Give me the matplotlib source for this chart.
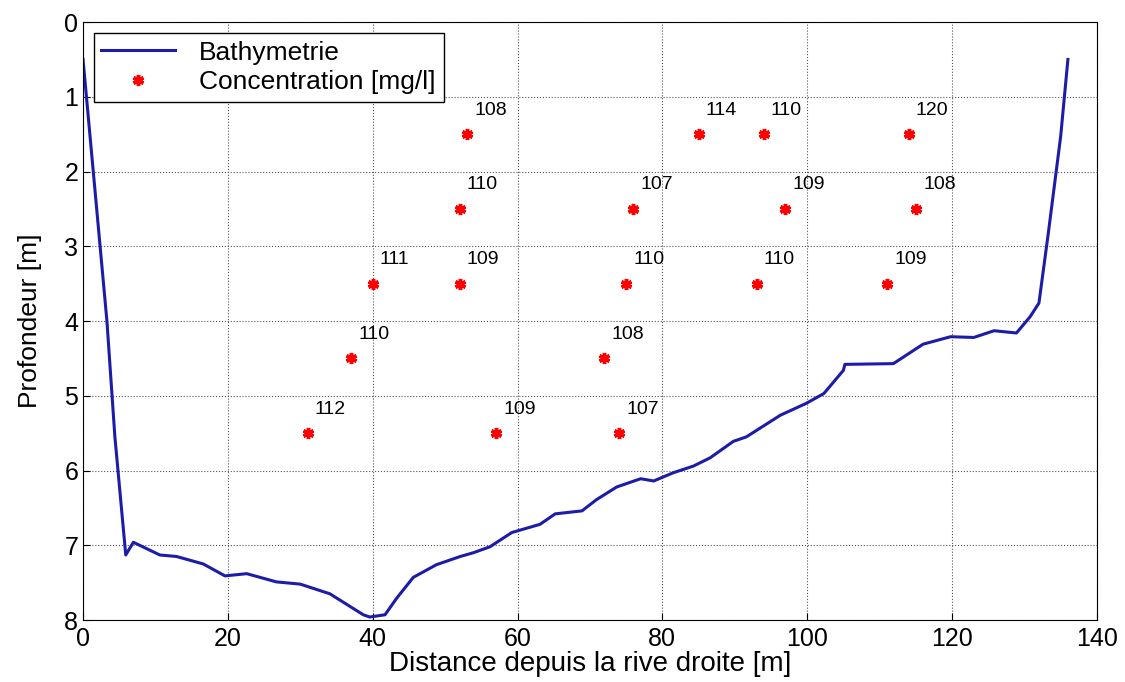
"""
    Profil bathymetrique et concentrations
"""

import numpy as np
import matplotlib.pyplot as plt

plt.rcParams['font.family'] = ['Liberation Sans', 'DejaVu Sans']

# bathymetrie (distance [m], profondeur [m])
dist = [0, 3.3, 4.4, 5.9, 6.95, 10.6, 12.9, 16.6, 19.6, 22.6, 26.7, 30, 34.1, 36.4,
        38.7, 39.6, 41.7, 43.3, 45.6, 48.8, 52.1, 53.9, 56.2, 59.2, 63.1, 65.2, 68.9,
        70.9, 73.7, 77, 78.8, 81.5, 84.3, 86.6, 89.8, 91.6, 96.3, 99.9, 102.3, 105,
        105.2, 111.9, 116, 119.8, 123, 125.8, 128.9, 130.8, 132, 133.3, 135, 136]
prof = [0.5, 4.0, 5.55, 7.13, 6.96, 7.13, 7.15, 7.25, 7.41, 7.38, 7.49, 7.52, 7.65, 7.79,
        7.93, 7.96, 7.93, 7.71, 7.43, 7.26, 7.15, 7.1, 7.02, 6.83, 6.72, 6.58, 6.54,
        6.39, 6.22, 6.11, 6.14, 6.03, 5.94, 5.83, 5.61, 5.55, 5.26, 5.1, 4.97, 4.66,
        4.58, 4.57, 4.31, 4.21, 4.22, 4.13, 4.16, 3.94, 3.76, 2.82, 1.53, 0.5]

# points de mesure
x_c = [31, 37, 40, 52, 52, 53, 57, 72, 74, 75, 76, 85, 94, 93, 97, 114, 115, 111]
y_c = [5.5, 4.5, 3.5, 3.5, 2.5, 1.5, 5.5, 4.5, 5.5, 3.5, 2.5, 1.5, 1.5, 3.5, 2.5, 1.5, 2.5, 3.5]
conc = [112, 110, 111, 109, 110, 108, 109, 108, 107, 110, 107, 114, 110, 110, 109, 120, 108, 109]

fontsize = 17

fig = plt.figure(figsize=(11.25, 6.82), dpi=100)
ax = fig.add_axes([0.0738, 0.0909, 0.9012, 0.8768])

ax.plot(dist, prof, color='#1c1ca8', linewidth=2.2, label='Bathymetrie')
ax.plot(x_c, y_c, linestyle='none', marker=(6, 2, 0), markersize=8, markeredgewidth=2.5,
        color='red', label='Concentration [mg/l]')
for xi, yi, c in zip(x_c, y_c, conc):
    ax.text(xi + 1, yi - 0.32, str(c), fontsize=14, ha='left', va='center')

ax.set_xlim(0, 140)
ax.set_ylim(8, 0)
ax.set_xticks(np.arange(0, 141, 20))
ax.set_yticks(np.arange(0, 9, 1))
ax.tick_params(direction='in', labelsize=fontsize + 1, length=5)
ax.tick_params(axis='x', pad=5)
ax.grid(True, linestyle=':', color='#555555', linewidth=0.8)
ax.set_xlabel("Distance depuis la rive droite [m]", fontsize=20, labelpad=0)
ax.set_ylabel("Profondeur [m]", fontsize=fontsize + 2, labelpad=16)
ax.legend(loc='upper left', fontsize=19, fancybox=False, edgecolor='black',
          framealpha=1, handlelength=2.8, handletextpad=0.9, borderaxespad=0.4,
          borderpad=0.3, labelspacing=0.2)

fig.savefig('out.png', dpi=100)
